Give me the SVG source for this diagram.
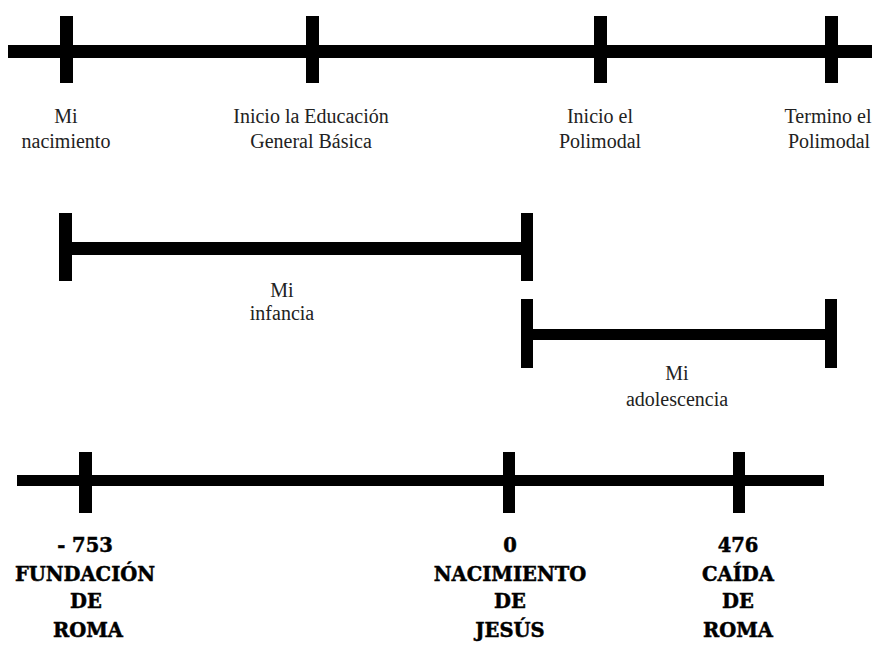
<svg xmlns="http://www.w3.org/2000/svg" width="872" height="646" viewBox="0 0 872 646">
<style>
.bar{fill:#000}
.lbl{font-family:"Liberation Serif","Times New Roman",serif;font-size:20px;fill:#222;text-anchor:middle}
.big{font-family:"DejaVu Serif","Liberation Serif",serif;font-size:19.5px;font-weight:bold;fill:#000;stroke:#000;stroke-width:0.5;text-anchor:middle}
</style>
<rect width="872" height="646" fill="#fff"/>
<g id="timeline-personal">
<rect class="bar" x="8" y="45" width="864" height="13"/>
<rect class="bar" x="60" y="16" width="13" height="67"/>
<rect class="bar" x="306" y="16" width="13" height="67"/>
<rect class="bar" x="594" y="16" width="13" height="67"/>
<rect class="bar" x="825" y="16" width="13" height="67"/>
</g>
<g id="label-nacimiento">
<text class="lbl" x="66" y="123">Mi</text>
<text class="lbl" x="66" y="148">nacimiento</text>
</g>
<g id="label-egb">
<text class="lbl" x="311" y="123">Inicio la Educación</text>
<text class="lbl" x="311" y="148">General Básica</text>
</g>
<g id="label-inicio-polimodal">
<text class="lbl" x="600" y="123">Inicio el</text>
<text class="lbl" x="600" y="148">Polimodal</text>
</g>
<g id="label-termino-polimodal">
<text class="lbl" x="828" y="123">Termino el</text>
<text class="lbl" x="829" y="148">Polimodal</text>
</g>
<g id="span-infancia">
<rect class="bar" x="66" y="242" width="461" height="13"/>
<rect class="bar" x="59" y="213" width="13" height="68"/>
<rect class="bar" x="521" y="213" width="12" height="68"/>
<text class="lbl" x="282" y="297">Mi</text>
<text class="lbl" x="282" y="320">infancia</text>
</g>
<g id="span-adolescencia">
<rect class="bar" x="527" y="329" width="304" height="11"/>
<rect class="bar" x="521" y="299" width="12" height="69"/>
<rect class="bar" x="825" y="299" width="12" height="69"/>
<text class="lbl" x="677" y="380">Mi</text>
<text class="lbl" x="677" y="406">adolescencia</text>
</g>
<g id="timeline-roma">
<rect class="bar" x="17" y="475" width="807" height="11"/>
<rect class="bar" x="79" y="452" width="13" height="61"/>
<rect class="bar" x="503" y="452" width="12" height="61"/>
<rect class="bar" x="733" y="452" width="12" height="61"/>
</g>
<g id="label-fundacion">
<text class="big" x="85" y="552">- 753</text>
<text class="big" x="85" y="581">FUNDACIÓN</text>
<text class="big" x="86" y="608">DE</text>
<text class="big" x="88" y="637">ROMA</text>
</g>
<g id="label-jesus">
<text class="big" x="510" y="552">0</text>
<text class="big" x="510" y="581">NACIMIENTO</text>
<text class="big" x="510" y="608">DE</text>
<text class="big" x="510" y="637">JESÚS</text>
</g>
<g id="label-caida">
<text class="big" x="738" y="552">476</text>
<text class="big" x="738" y="581">CAÍDA</text>
<text class="big" x="738" y="608">DE</text>
<text class="big" x="738" y="637">ROMA</text>
</g>
</svg>
